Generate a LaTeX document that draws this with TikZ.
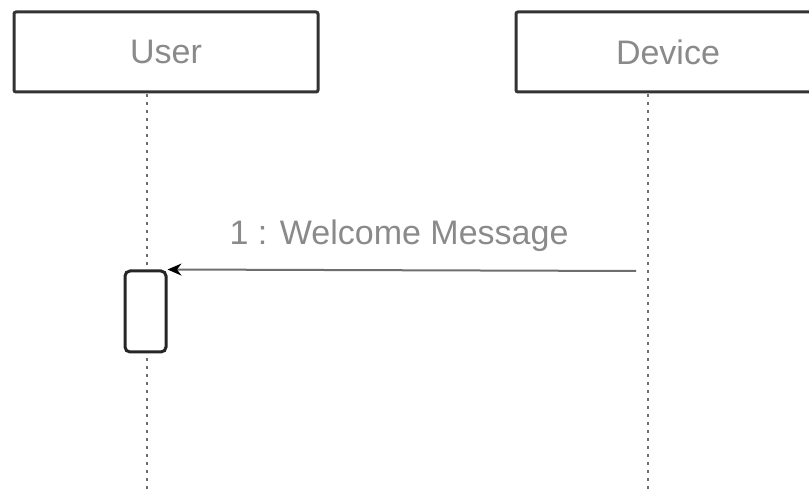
\documentclass[tikz,border=0pt]{standalone}
\usepackage{fontspec}
\setmainfont{Liberation Sans}
\usepackage{xcolor}
\usetikzlibrary{positioning,arrows.meta}
\definecolor{labelgray}{HTML}{8A8A8A}
\definecolor{linegray}{HTML}{6E6E6E}

\begin{document}
\begin{tikzpicture}[x=1pt, y=-1pt, >=Stealth,
    every node/.style={font=\fontsize{34}{38}\selectfont, text=labelgray},
    actor/.style={draw=black!80, line width=3pt, rounded corners=2pt, fill=white,
      minimum width=304pt, minimum height=80pt, inner sep=0pt},
    lifeline/.style={draw=linegray, line width=2pt, dash pattern=on 3pt off 5pt},
    activation/.style={draw=black!85, line width=3pt, rounded corners=5pt, fill=white,
      minimum width=41pt, minimum height=81pt, inner sep=0pt},
    message/.style={draw=linegray, line width=2pt, -{Stealth[length=14pt, width=12pt, black]}}]
  \useasboundingbox (0,0) rectangle (809,494);
  \clip (0,0) rectangle (809,494);

  % lifeline heads
  \node[actor] (user) at (166,52) {User};
  \node[actor] (device) at (668,52) {Device};

  % lifelines
  \coordinate (userend) at (147,494);
  \coordinate (deviceend) at (648,494);
  \draw[lifeline] (147,94) -- (userend);
  \draw[lifeline] (648,94) -- (deviceend);

  % activation bar on User
  \node[activation] (useract) at (145.5,311.5) {};

  % message
  \coordinate (msgstart) at (636,271);
  \draw[message] (msgstart) -- (useract.north east);
  \node (msglabel) at (399,236) {1 : Welcome Message};
\end{tikzpicture}
\end{document}
